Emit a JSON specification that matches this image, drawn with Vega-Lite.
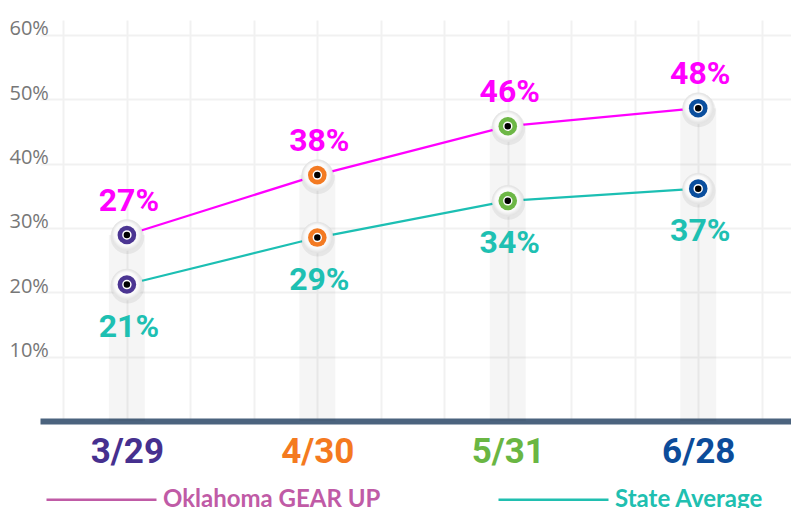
{
  "$schema": "https://vega.github.io/schema/vega-lite/v6.json",
  "width": 751,
  "height": 401,
  "autosize": {"type": "none"},
  "padding": {"left": 40, "top": 20, "right": 0, "bottom": 87},
  "background": "white",
  "title": {"text": "COMPLETED FAFSA", "font": "Liberation Sans", "fontSize": 36, "fontWeight": "bold", "color": "#1b1b1b", "anchor": "middle", "frame": "group", "baseline": "alphabetic", "offset": 11, "dx": -10},
  "config": {"view": {"stroke": null}},
  "data": {
    "values": [
      {"date": "3/29", "period": 1, "series": "Oklahoma GEAR UP", "value": 28.9, "label": "27%"},
      {"date": "3/29", "period": 1, "series": "State Average", "value": 21.2, "label": "21%"},
      {"date": "4/30", "period": 2, "series": "Oklahoma GEAR UP", "value": 38.2, "label": "38%"},
      {"date": "4/30", "period": 2, "series": "State Average", "value": 28.5, "label": "29%"},
      {"date": "5/31", "period": 3, "series": "Oklahoma GEAR UP", "value": 45.8, "label": "46%"},
      {"date": "5/31", "period": 3, "series": "State Average", "value": 34.2, "label": "34%"},
      {"date": "6/28", "period": 4, "series": "Oklahoma GEAR UP", "value": 48.6, "label": "48%"},
      {"date": "6/28", "period": 4, "series": "State Average", "value": 36.1, "label": "37%"}
    ]
  },
  "encoding": {
    "x": {
      "field": "period",
      "type": "quantitative",
      "scale": {"domain": [0.57, 4.461], "nice": false, "zero": false},
      "axis": {
        "title": null,
        "values": [0.6667, 1, 1.3333, 1.6667, 2, 2.3333, 2.6667, 3, 3.3333, 3.6667, 4, 4.3333],
        "grid": true,
        "gridColor": "#f1f1f1",
        "gridWidth": 2,
        "ticks": false,
        "tickSize": 0,
        "domain": true,
        "domainColor": "#4b637e",
        "domainWidth": 6,
        "labelExpr": "abs(datum.value - round(datum.value)) < 0.01 ? ['3/29','4/30','5/31','6/28'][round(datum.value) - 1] : ''",
        "labelFont": "Roboto",
        "labelFontWeight": "bold",
        "labelFontSize": 35,
        "labelBaseline": "alphabetic",
        "labelPadding": 41,
        "labelOverlap": false,
        "labelFlush": false,
        "labelBound": false,
        "labelColor": {"expr": "round(datum.value) == 1 ? '#46308f' : round(datum.value) == 2 ? '#f47a1f' : round(datum.value) == 3 ? '#6ab643' : '#0c4c9a'"}
      }
    },
    "y": {
      "field": "value",
      "type": "quantitative",
      "scale": {"domain": [0, 62.3], "nice": false},
      "axis": {
        "title": null,
        "values": [10, 20, 30, 40, 50, 60],
        "grid": true,
        "gridColor": "#f1f1f1",
        "gridWidth": 2,
        "ticks": false,
        "tickSize": 0,
        "domain": false,
        "labelExpr": "datum.value + '%'",
        "labelAlign": "left",
        "labelBaseline": "alphabetic",
        "labelDy": -5,
        "labelPadding": 31,
        "labelFont": "Open Sans",
        "labelFontSize": 20,
        "labelColor": "#777777",
        "labelFlush": false
      }
    }
  },
  "layer": [
    {
      "transform": [{"filter": "datum.series === 'Oklahoma GEAR UP'"}],
      "mark": {"type": "bar", "size": 36, "color": "#000000", "opacity": 0.04},
      "encoding": {"y2": {"datum": 0}}
    },
    {
      "mark": {"type": "line", "strokeWidth": 2.2},
      "encoding": {
        "stroke": {
          "field": "series",
          "type": "nominal",
          "scale": {"range": ["#ff00ff", "#1cbfb3"]},
          "legend": null
        }
      }
    },
    {
      "mark": {"type": "line", "strokeWidth": 0},
      "encoding": {
        "color": {
          "field": "series",
          "type": "nominal",
          "scale": {"domain": ["Oklahoma GEAR UP", "State Average"], "range": ["#c05ba6", "#20bfb0"]},
          "legend": {
            "title": null,
            "orient": "none",
            "legendX": 5,
            "legendY": 423,
            "direction": "horizontal",
            "symbolType": "stroke",
            "symbolSize": 12100,
            "symbolStrokeWidth": 2.5,
            "labelFont": "Lato",
            "labelFontWeight": "bold",
            "labelFontSize": 24,
            "labelOffset": 5,
            "labelLimit": 400,
            "columnPadding": 112,
            "padding": 0,
            "encode": {
              "labels": {"update": {"fill": {"signal": "datum.value === 'State Average' ? '#20bfb0' : '#c05ba6'"}}}
            }
          }
        }
      }
    },
    {
      "mark": {"type": "circle", "size": 1150, "fill": "#000000", "opacity": 0.06, "yOffset": 2, "xOffset": 0.5}
    },
    {
      "mark": {
        "type": "circle",
        "size": 962,
        "opacity": 1,
        "fill": {
          "gradient": "radial",
          "x1": 0.42, "y1": 0.38, "r1": 0,
          "x2": 0.5, "y2": 0.5, "r2": 0.5,
          "stops": [
            {"offset": 0, "color": "#ffffff"},
            {"offset": 0.75, "color": "#fafafa"},
            {"offset": 1, "color": "#e0e0e0"}
          ]
        },
        "stroke": "#e6e6e6",
        "strokeWidth": 0.6
      }
    },
    {
      "mark": {"type": "circle", "size": 346, "opacity": 1},
      "encoding": {
        "fill": {
          "field": "date",
          "type": "nominal",
          "scale": {"domain": ["3/29", "4/30", "5/31", "6/28"], "range": ["#4b3592", "#f37a22", "#6db746", "#0b4f9e"]},
          "legend": null
        }
      }
    },
    {
      "mark": {"type": "circle", "size": 64, "opacity": 1, "fill": "#000000", "stroke": "#ffffff", "strokeWidth": 1.5}
    },
    {
      "transform": [{"filter": "datum.series === 'Oklahoma GEAR UP'"}],
      "mark": {"type": "text", "font": "Roboto", "fontWeight": "bold", "fontSize": 32, "color": "#ff00ff", "dy": -24, "dx": 2, "baseline": "alphabetic"},
      "encoding": {"text": {"field": "label"}}
    },
    {
      "transform": [{"filter": "datum.series === 'State Average'"}],
      "mark": {"type": "text", "font": "Roboto", "fontWeight": "bold", "fontSize": 32, "color": "#1ec0b2", "dy": 52, "dx": 2, "baseline": "alphabetic"},
      "encoding": {"text": {"field": "label"}}
    }
  ]
}
